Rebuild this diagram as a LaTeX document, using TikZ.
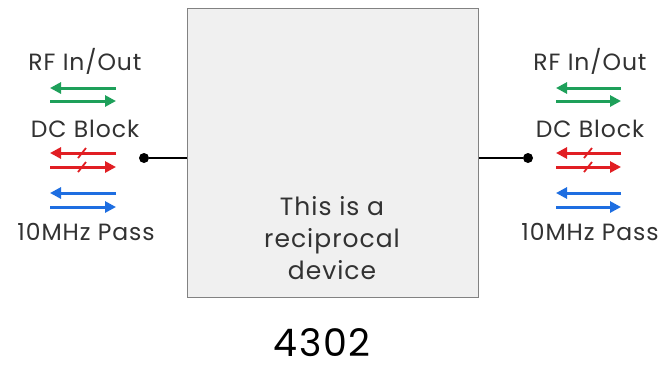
\documentclass[tikz,border=0pt]{standalone}
\usepackage{fontspec}
\setmainfont{Poppins}[LetterSpace=4]
\usetikzlibrary{arrows.meta}
\definecolor{rfgreen}{RGB}{30,160,90}
\definecolor{dcred}{RGB}{225,30,35}
\definecolor{mhzblue}{RGB}{30,110,225}
\definecolor{boxfill}{RGB}{240,240,240}
\definecolor{boxline}{RGB}{130,130,130}
\definecolor{txt}{RGB}{50,50,50}
\tikzset{
  lbl/.style={font=\fontsize{23.5}{23.5}\selectfont, text=txt, inner sep=0pt, anchor=base},
  sigarrow/.style={line width=3pt, -{Triangle[length=11pt,width=11pt]}},
  slash/.style={line width=1.8pt},
  port/.style={circle, fill=black, inner sep=0pt, minimum size=10pt},
  wire/.style={line width=2pt}
}
\begin{document}
\begin{tikzpicture}[x=1pt,y=-1pt]
\useasboundingbox (0,0) rectangle (667,368);
\fill[white] (0,0) rectangle (667,368);
% device box
\node[draw=boxline, fill=boxfill, line width=0.8pt, minimum width=291pt, minimum height=289pt, inner sep=0pt, anchor=north west] (dev) at (187,8) {};
\node[font=\fontsize{25}{32}\selectfont, text=txt, align=center, inner sep=0pt] (desc) at (332,238) {This is a\\reciprocal\\device};
\node[font=\fontsize{38}{38}\selectfont, text=black, inner sep=0pt, anchor=base] (num) at (322,356) {4302};
% ports
\node[port] (pl) at (144,158) {};
\node[port] (pr) at (528,158) {};
\draw[wire] (pl) -- (dev.west |- pl);
\draw[wire] (pr) -- (dev.east |- pr);
% left labels
\node[lbl] (l1) at (85,70) {RF In/Out};
\node[lbl] (l2) at (85,137) {DC Block};
\node[lbl] (l3) at (86,240) {10MHz Pass};
% right labels
\node[lbl] (r1) at (590,70) {RF In/Out};
\node[lbl] (r2) at (590,137) {DC Block};
\node[lbl] (r3) at (590,240) {10MHz Pass};
% left arrows
\coordinate (lga) at (50,88); \coordinate (lgb) at (116,88);
\coordinate (lgc) at (50,101); \coordinate (lgd) at (116,101);
\draw[sigarrow, rfgreen] (lgb) -- (lga);
\draw[sigarrow, rfgreen] (lgc) -- (lgd);
\coordinate (lra) at (50,153); \coordinate (lrb) at (116,153);
\coordinate (lrc) at (50,167); \coordinate (lrd) at (116,167);
\draw[sigarrow, dcred] (lrb) -- (lra);
\draw[sigarrow, dcred] (lrc) -- (lrd);
\draw[slash, dcred] (78,158) -- (86,148);
\draw[slash, dcred] (78,172) -- (86,162);
\coordinate (lba) at (50,193); \coordinate (lbb) at (116,193);
\coordinate (lbc) at (50,207); \coordinate (lbd) at (116,207);
\draw[sigarrow, mhzblue] (lbb) -- (lba);
\draw[sigarrow, mhzblue] (lbc) -- (lbd);
% right arrows
\coordinate (rga) at (556,88); \coordinate (rgb) at (621,88);
\coordinate (rgc) at (556,101); \coordinate (rgd) at (621,101);
\draw[sigarrow, rfgreen] (rgb) -- (rga);
\draw[sigarrow, rfgreen] (rgc) -- (rgd);
\coordinate (rra) at (556,153); \coordinate (rrb) at (621,153);
\coordinate (rrc) at (556,167); \coordinate (rrd) at (621,167);
\draw[sigarrow, dcred] (rrb) -- (rra);
\draw[sigarrow, dcred] (rrc) -- (rrd);
\draw[slash, dcred] (584,158) -- (592,148);
\draw[slash, dcred] (584,172) -- (592,162);
\coordinate (rba) at (556,193); \coordinate (rbb) at (621,193);
\coordinate (rbc) at (556,207); \coordinate (rbd) at (621,207);
\draw[sigarrow, mhzblue] (rbb) -- (rba);
\draw[sigarrow, mhzblue] (rbc) -- (rbd);
\end{tikzpicture}
\end{document}
